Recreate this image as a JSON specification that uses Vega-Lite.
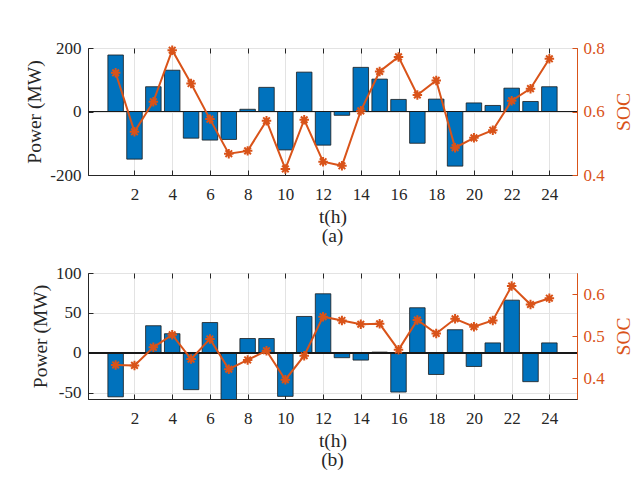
{
  "$schema": "https://vega.github.io/schema/vega-lite/v6.json",
  "background": "white",
  "padding": {"left": 24, "top": 38, "right": 5, "bottom": 5},
  "spacing": 17,
  "config": {
    "font": "Liberation Serif",
    "view": {"stroke": "#262626", "strokeWidth": 1},
    "axis": {
      "labelFont": "Liberation Serif", "titleFont": "Liberation Serif",
      "labelFontSize": 17, "titleFontSize": 19.5, "titleFontWeight": "normal",
      "labelColor": "#262626", "titleColor": "#262626",
      "domainColor": "#262626", "tickColor": "#262626",
      "gridColor": "#e3e3e3", "tickSize": -5
    }
  },
  "datasets": {
    "a": [
      {"t": 1, "power": 178, "soc": 0.722},
      {"t": 2, "power": -150, "soc": 0.536},
      {"t": 3, "power": 78, "soc": 0.631},
      {"t": 4, "power": 130, "soc": 0.793},
      {"t": 5, "power": -84, "soc": 0.688},
      {"t": 6, "power": -90, "soc": 0.576},
      {"t": 7, "power": -88, "soc": 0.467},
      {"t": 8, "power": 7, "soc": 0.476},
      {"t": 9, "power": 76, "soc": 0.571},
      {"t": 10, "power": -121, "soc": 0.419},
      {"t": 11, "power": 124, "soc": 0.574},
      {"t": 12, "power": -106, "soc": 0.442},
      {"t": 13, "power": -12, "soc": 0.429},
      {"t": 14, "power": 139, "soc": 0.602},
      {"t": 15, "power": 102, "soc": 0.726},
      {"t": 16, "power": 38, "soc": 0.772},
      {"t": 17, "power": -100, "soc": 0.652},
      {"t": 18, "power": 39, "soc": 0.698},
      {"t": 19, "power": -172, "soc": 0.486},
      {"t": 20, "power": 27, "soc": 0.517},
      {"t": 21, "power": 19, "soc": 0.541},
      {"t": 22, "power": 73.5, "soc": 0.634},
      {"t": 23, "power": 31.5, "soc": 0.672},
      {"t": 24, "power": 78, "soc": 0.766}
    ],
    "b": [
      {"t": 1, "power": -55, "soc": 0.431},
      {"t": 2, "power": -0.5, "soc": 0.430},
      {"t": 3, "power": 34, "soc": 0.473},
      {"t": 4, "power": 24, "soc": 0.503},
      {"t": 5, "power": -46, "soc": 0.445},
      {"t": 6, "power": 38, "soc": 0.493},
      {"t": 7, "power": -60, "soc": 0.421},
      {"t": 8, "power": 18, "soc": 0.443},
      {"t": 9, "power": 18, "soc": 0.465},
      {"t": 10, "power": -54.4, "soc": 0.396},
      {"t": 11, "power": 45.6, "soc": 0.453},
      {"t": 12, "power": 74, "soc": 0.546},
      {"t": 13, "power": -6, "soc": 0.537},
      {"t": 14, "power": -9, "soc": 0.528},
      {"t": 15, "power": 1, "soc": 0.529},
      {"t": 16, "power": -49, "soc": 0.467},
      {"t": 17, "power": 56.5, "soc": 0.538},
      {"t": 18, "power": -27, "soc": 0.506},
      {"t": 19, "power": 29, "soc": 0.541},
      {"t": 20, "power": -17, "soc": 0.522},
      {"t": 21, "power": 12.5, "soc": 0.537},
      {"t": 22, "power": 66, "soc": 0.619},
      {"t": 23, "power": -36, "soc": 0.575},
      {"t": 24, "power": 12.5, "soc": 0.590}
    ]
  },
  "vconcat": [
    {
      "width": 489, "height": 127,
      "data": {"name": "a"},
      "title": {"text": "(a)", "orient": "bottom", "fontSize": 19.5, "fontWeight": "normal", "color": "#262626", "offset": 1},
      "layer": [
        {
          "layer": [
            {
              "mark": {"type": "bar", "size": 15.5, "fill": "#0072BD", "stroke": "#1a1a1a", "strokeWidth": 0.8, "clip": true},
              "encoding": {
                "x": {"field": "t", "type": "quantitative", "scale": {"domain": [-0.2, 25.2], "nice": false, "zero": false},
                  "axis": {"orient": "bottom", "values": [2,4,6,8,10,12,14,16,18,20,22,24], "title": "t(h)", "grid": true, "labelPadding": 16, "titlePadding": 5}},
                "y": {"field": "power", "type": "quantitative", "scale": {"domain": [-200, 200], "nice": false},
                  "axis": {"orient": "left", "values": [-200, 0, 200], "title": "Power (MW)", "grid": true, "labelPadding": 12, "titlePadding": 5, "labelExpr": "replace(datum.label, '\u2212', '-')"}}
              }
            },
            {
              "mark": {"type": "rule", "color": "#1a1a1a", "strokeWidth": 1},
              "encoding": {"y": {"datum": 0}}
            }
          ]
        },
        {
          "layer": [
            {
              "mark": {"type": "line", "color": "#D95319", "strokeWidth": 2},
              "encoding": {
                "x": {"field": "t", "type": "quantitative", "scale": {"domain": [-0.2, 25.2], "nice": false, "zero": false},
                  "axis": {"orient": "top", "values": [2,4,6,8,10,12,14,16,18,20,22,24], "labels": false, "title": null, "grid": false, "domain": false}},
                "y": {"field": "soc", "type": "quantitative", "scale": {"domain": [0.4, 0.8], "nice": false, "zero": false},
                  "axis": {"orient": "right", "values": [0.4, 0.6, 0.8], "format": ".1f", "title": "SOC", "titleAngle": 270, "titleBaseline": "top", "grid": false, "labelPadding": 11, "titlePadding": 10,
                    "labelColor": "#D95319", "titleColor": "#D95319", "tickColor": "#D95319", "domainColor": "#D95319"}}
              }
            },
            {
              "mark": {"type": "point", "shape": "M-1,0L1,0M0,-1L0,1M-0.7,-0.7L0.7,0.7M-0.7,0.7L0.7,-0.7", "filled": false, "stroke": "#D95319", "strokeWidth": 2, "size": 90, "opacity": 1},
              "encoding": {
                "x": {"field": "t", "type": "quantitative"},
                "y": {"field": "soc", "type": "quantitative"}
              }
            }
          ]
        }
      ],
      "resolve": {"scale": {"y": "independent"}, "axis": {"x": "independent"}}
    },
    {
      "width": 489, "height": 126,
      "data": {"name": "b"},
      "title": {"text": "(b)", "orient": "bottom", "fontSize": 19.5, "fontWeight": "normal", "color": "#262626", "offset": 1},
      "layer": [
        {
          "layer": [
            {
              "mark": {"type": "bar", "size": 15.5, "fill": "#0072BD", "stroke": "#1a1a1a", "strokeWidth": 0.8, "clip": true},
              "encoding": {
                "x": {"field": "t", "type": "quantitative", "scale": {"domain": [-0.2, 25.2], "nice": false, "zero": false},
                  "axis": {"orient": "bottom", "values": [2,4,6,8,10,12,14,16,18,20,22,24], "title": "t(h)", "grid": true, "labelPadding": 16, "titlePadding": 5}},
                "y": {"field": "power", "type": "quantitative", "scale": {"domain": [-57.7, 100], "nice": false},
                  "axis": {"orient": "left", "values": [-50, 0, 50, 100], "title": "Power (MW)", "grid": true, "labelPadding": 12, "titlePadding": 5, "labelExpr": "replace(datum.label, '\u2212', '-')"}}
              }
            },
            {
              "mark": {"type": "rule", "color": "#1a1a1a", "strokeWidth": 1},
              "encoding": {"y": {"datum": 0}}
            }
          ]
        },
        {
          "layer": [
            {
              "mark": {"type": "line", "color": "#D95319", "strokeWidth": 2},
              "encoding": {
                "x": {"field": "t", "type": "quantitative", "scale": {"domain": [-0.2, 25.2], "nice": false, "zero": false},
                  "axis": {"orient": "top", "values": [2,4,6,8,10,12,14,16,18,20,22,24], "labels": false, "title": null, "grid": false, "domain": false}},
                "y": {"field": "soc", "type": "quantitative", "scale": {"domain": [0.35, 0.65], "nice": false, "zero": false},
                  "axis": {"orient": "right", "values": [0.4, 0.5, 0.6], "format": ".1f", "title": "SOC", "titleAngle": 270, "titleBaseline": "top", "grid": false, "labelPadding": 11, "titlePadding": 10,
                    "labelColor": "#D95319", "titleColor": "#D95319", "tickColor": "#D95319", "domainColor": "#D95319"}}
              }
            },
            {
              "mark": {"type": "point", "shape": "M-1,0L1,0M0,-1L0,1M-0.7,-0.7L0.7,0.7M-0.7,0.7L0.7,-0.7", "filled": false, "stroke": "#D95319", "strokeWidth": 2, "size": 90, "opacity": 1},
              "encoding": {
                "x": {"field": "t", "type": "quantitative"},
                "y": {"field": "soc", "type": "quantitative"}
              }
            }
          ]
        }
      ],
      "resolve": {"scale": {"y": "independent"}, "axis": {"x": "independent"}}
    }
  ]
}
